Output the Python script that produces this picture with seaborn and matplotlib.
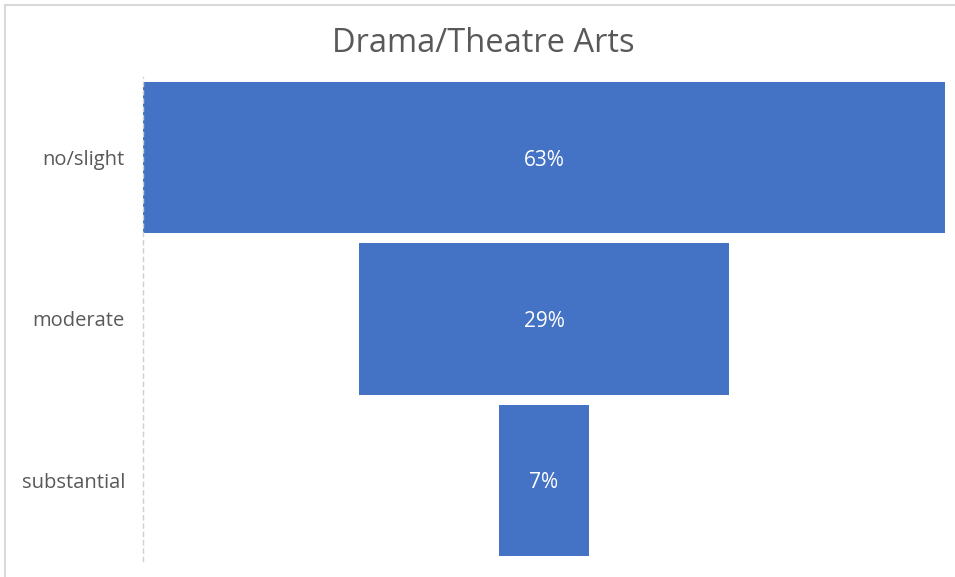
import matplotlib
matplotlib.use("Agg")
import matplotlib.pyplot as plt
import seaborn as sns
import pandas as pd
from matplotlib.patches import Rectangle

categories = ["no/slight", "moderate", "substantial"]
values = [63, 29, 7]
labels = ["63%", "29%", "7%"]
title = "Drama/Theatre Arts"

sns.set_theme(style="white")
plt.rcParams["font.family"] = ["Open Sans", "DejaVu Sans"]

df = pd.DataFrame({"category": categories, "value": values})

fig = plt.figure(figsize=(9.55, 5.77), dpi=100)
ax = fig.add_axes([143 / 955, 1 - 561 / 577, (945 - 143) / 955, (561 - 77) / 577])

sns.barplot(data=df, x="value", y="category", orient="h", color="#4472C4",
            saturation=1, width=0.94, ax=ax)

vmax = max(values)
for patch, v, lab in zip(ax.patches, values, labels):
    patch.set_x((vmax - v) / 2)
    patch.set_edgecolor("none")
    cy = patch.get_y() + patch.get_height() / 2
    ax.text(vmax / 2, cy, lab, ha="center", va="center_baseline", color="white", fontsize=15)

ax.set_xlim(0, vmax)
ax.set_ylim(2.5, -0.5)
ax.set_xlabel("")
ax.set_ylabel("")
ax.set_xticks([])
for s in ["top", "right", "bottom"]:
    ax.spines[s].set_visible(False)
ax.spines["left"].set_color("#D0D0D0")
ax.spines["left"].set_linestyle((0, (3, 3)))
ax.spines["left"].set_linewidth(1)
ax.tick_params(axis="y", length=0, pad=13, labelsize=14.5, labelcolor="#595959")

fig.text(0.506, 1 - 44 / 577, title, ha="center", va="center", fontsize=23.5, color="#595959")

fig.add_artist(Rectangle((5 / 955, -0.5), 2, 1.5 - 5 / 577, transform=fig.transFigure,
                         fill=False, edgecolor="#D9D9D9", linewidth=1.5))

fig.savefig("out.png", dpi=100, facecolor="white")
